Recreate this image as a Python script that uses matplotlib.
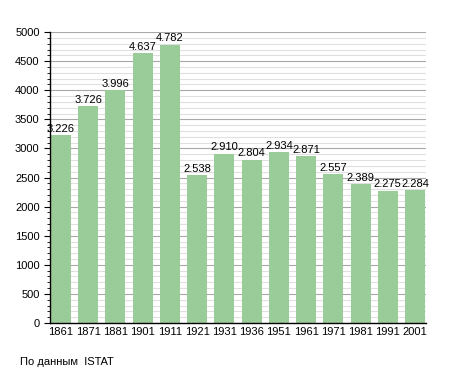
import numpy as np
import matplotlib.pyplot as plt

plt.rcParams['font.family'] = ['Liberation Sans', 'DejaVu Sans']

years = ['1861', '1871', '1881', '1901', '1911', '1921', '1931', '1936',
         '1951', '1961', '1971', '1981', '1991', '2001']
population = [3226, 3726, 3996, 4637, 4782, 2538, 2910, 2804,
              2934, 2871, 2557, 2389, 2275, 2284]
labels = ['3.226', '3.726', '3.996', '4.637', '4.782', '2.538', '2.910', '2.804',
          '2.934', '2.871', '2.557', '2.389', '2.275', '2.284']

fig = plt.figure(figsize=(4.55, 3.73), dpi=100)
ax = fig.add_axes([0.110, 0.134, 0.826, 0.780])

x = np.arange(len(years))
ax.bar(x, population, width=0.735, color='#99cc99', zorder=2)

for xi, v, lab in zip(x, population, labels):
    ax.text(xi, v + 25, lab, ha='center', va='bottom', fontsize=8, zorder=3)

ax.set_xlim(-0.4, len(years) - 0.6)
ax.set_ylim(0, 5000)
ax.set_yticks(np.arange(0, 5001, 500))
ax.set_yticks(np.arange(0, 5001, 100), minor=True)
ax.grid(axis='y', which='major', color='#a8a8a8', linewidth=0.8, zorder=0)
ax.grid(axis='y', which='minor', color='#e0e0e0', linewidth=0.8, zorder=0)
ax.set_xticks(x)
ax.set_xticklabels(years)
ax.tick_params(axis='x', length=0, labelsize=8, pad=3)
ax.tick_params(axis='y', which='major', length=4, labelsize=8, direction='out')
ax.tick_params(axis='y', which='minor', length=2.5, direction='out')

for s in ['top', 'right']:
    ax.spines[s].set_visible(False)
ax.spines['left'].set_linewidth(1.0)
ax.spines['bottom'].set_linewidth(1.0)

fig.text(20 / 455, 1 - 362 / 373, 'По данным  ISTAT', fontsize=8, va='center')

fig.savefig('out.png', dpi=100)
